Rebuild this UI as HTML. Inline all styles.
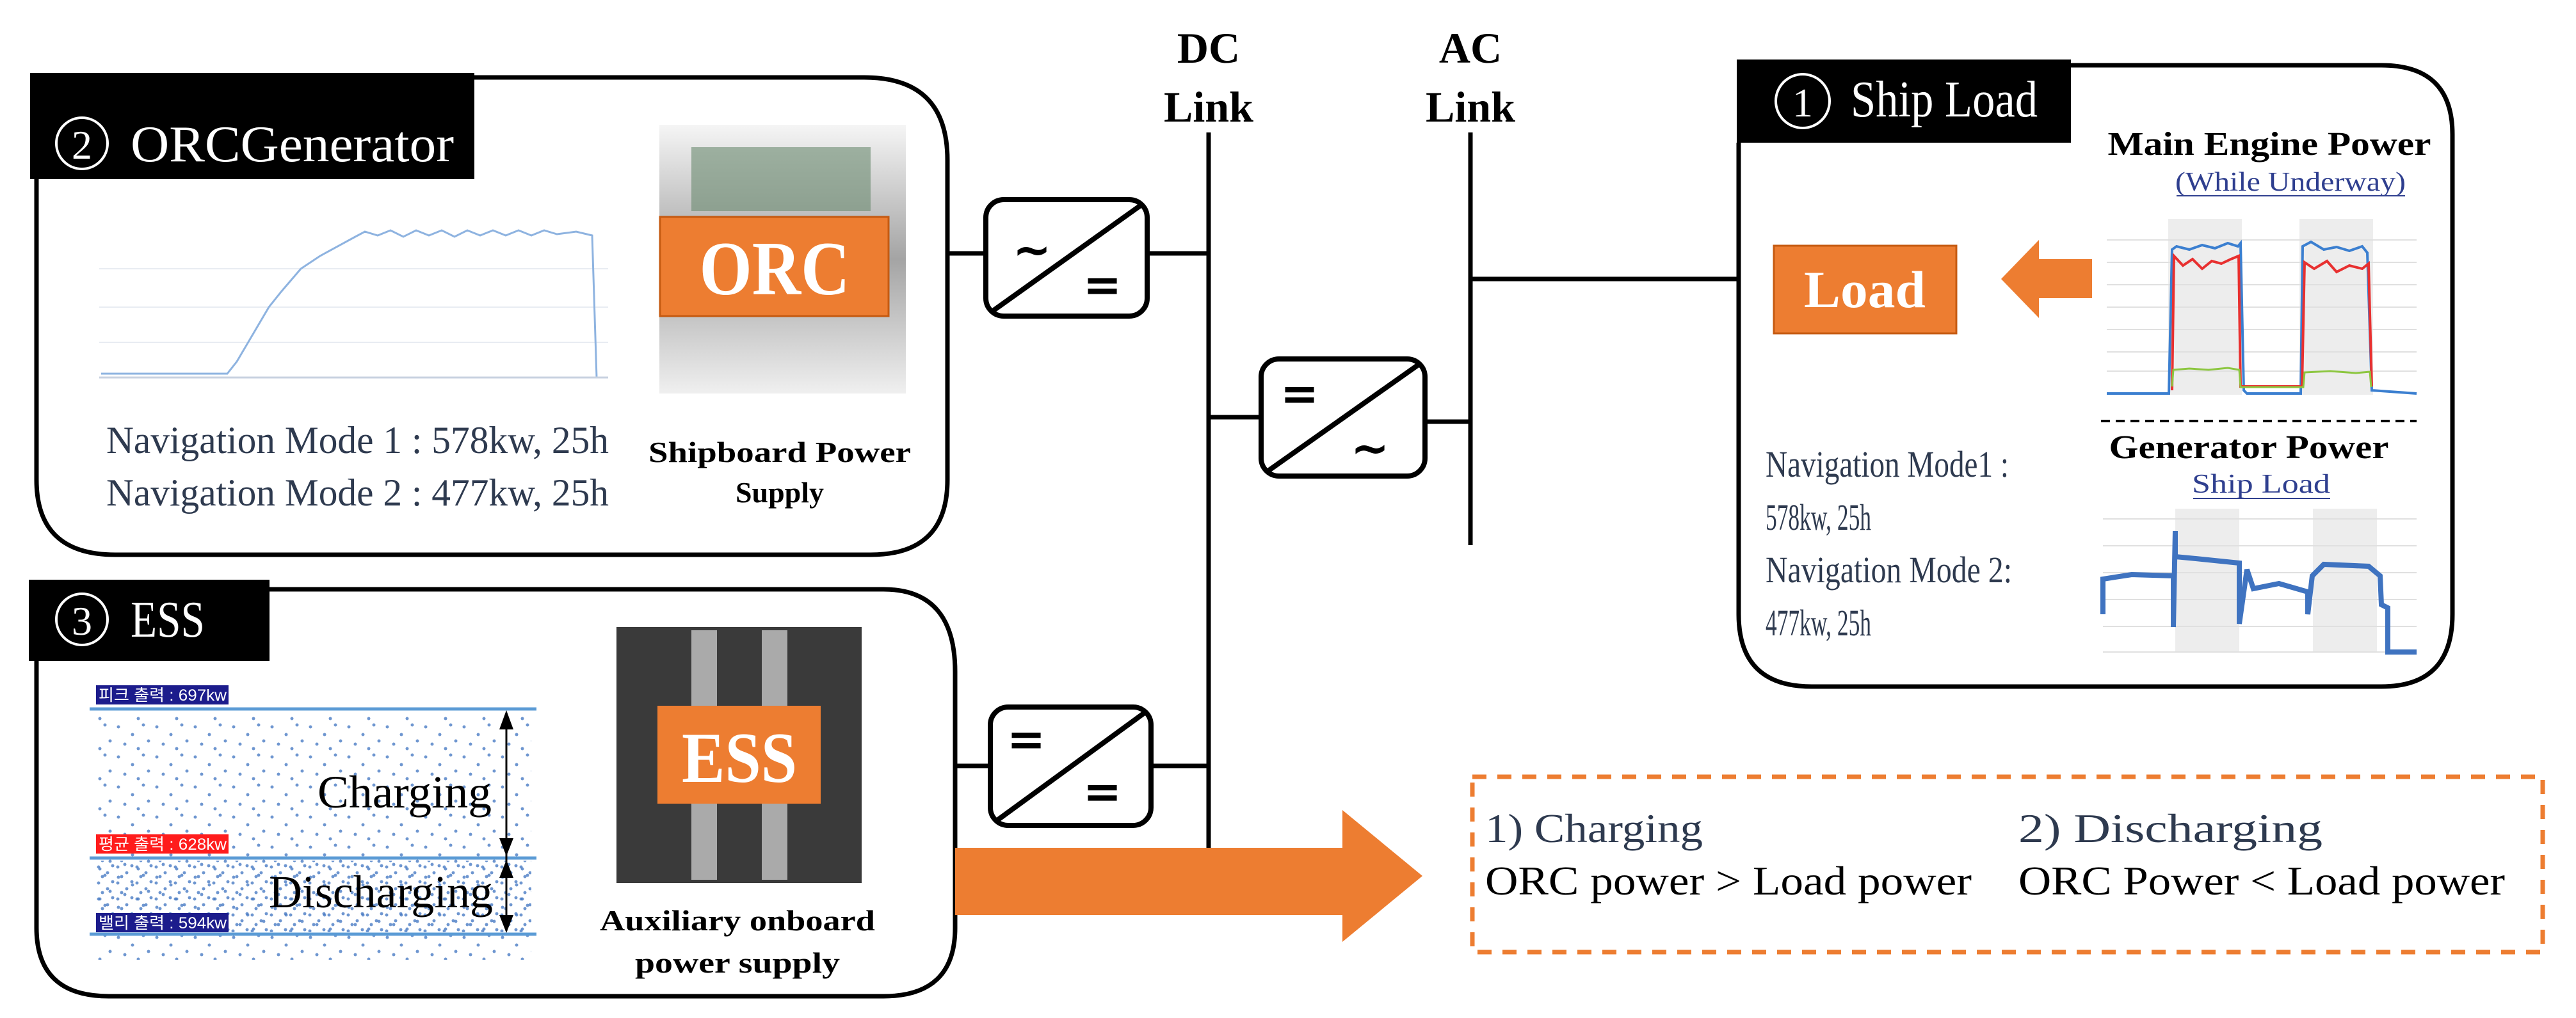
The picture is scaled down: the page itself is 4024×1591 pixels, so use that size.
<!DOCTYPE html>
<html><head><meta charset="utf-8"><style>html,body{margin:0;padding:0;background:#fff}svg{display:block}</style></head><body>
<svg width="4024" height="1591" viewBox="0 0 4024 1591" xmlns="http://www.w3.org/2000/svg" font-family="'Liberation Serif', serif">
<defs>
<pattern id="dots" width="60" height="47" patternUnits="userSpaceOnUse">
<circle cx="5" cy="8" r="2.5" fill="#4a7cc4"/><circle cx="27" cy="20" r="2.5" fill="#4a7cc4"/><circle cx="44" cy="5" r="2.5" fill="#4a7cc4"/><circle cx="15" cy="35" r="2.5" fill="#4a7cc4"/><circle cx="52" cy="30" r="2.5" fill="#4a7cc4"/><circle cx="36" cy="42" r="2.5" fill="#4a7cc4"/>
</pattern>
<pattern id="dots2" width="30" height="25" patternUnits="userSpaceOnUse">
<circle cx="4" cy="5" r="2.5" fill="#4a7cc4"/><circle cx="18" cy="14" r="2.5" fill="#4a7cc4"/><circle cx="26" cy="3" r="2.5" fill="#4a7cc4"/><circle cx="10" cy="20" r="2.5" fill="#4a7cc4"/>
</pattern>
<linearGradient id="ph" x1="0" y1="0" x2="0" y2="1"><stop offset="0" stop-color="#f4f4f4"/><stop offset="0.5" stop-color="#9a9a9a"/><stop offset="1" stop-color="#eeeeee"/></linearGradient>
</defs>

<!-- Bus lines -->
<g stroke="#000" stroke-width="7" fill="none">
<line x1="1888" y1="207" x2="1888" y2="1330"/>
<line x1="2297" y1="207" x2="2297" y2="852"/>
<line x1="1480" y1="396" x2="1540" y2="396"/><line x1="1792" y1="396" x2="1888" y2="396"/>
<line x1="1888" y1="652" x2="1970" y2="652"/><line x1="2226" y1="659" x2="2297" y2="659"/>
<line x1="2297" y1="436" x2="2716" y2="436"/>
<line x1="1492" y1="1197" x2="1547" y2="1197"/><line x1="1798" y1="1197" x2="1888" y2="1197"/>
</g>
<g font-weight="bold" font-size="68" text-anchor="middle" fill="#000">
<text x="1888" y="98">DC</text><text x="1888" y="190">Link</text>
<text x="2297" y="98">AC</text><text x="2297" y="190">Link</text>
</g>

<!-- Converters -->
<g stroke="#000" stroke-width="8" fill="#fff">
<rect x="1540" y="312" width="252" height="182" rx="28"/>
<line x1="1548" y1="488" x2="1786" y2="318"/>
<rect x="1970" y="561" width="256" height="183" rx="28"/>
<line x1="1978" y1="738" x2="2220" y2="567"/>
<rect x="1547" y="1105" width="251" height="185" rx="28"/>
<line x1="1555" y1="1284" x2="1792" y2="1111"/>
</g>
<g font-family="'DejaVu Sans',sans-serif" font-weight="bold" font-size="72" text-anchor="middle" fill="#000">
<text x="1612" y="415">~</text><text x="1722" y="470">=</text>
<text x="2030" y="640">=</text><text x="2140" y="725">~</text>
<text x="1603" y="1180">=</text><text x="1722" y="1262">=</text>
</g>

<!-- ORC box -->
<path d="M57 280 V750 Q57 867 180 867 H1360 Q1480 867 1480 750 V250 Q1480 121 1350 121 H741" fill="none" stroke="#000" stroke-width="7"/>
<rect x="47" y="114" width="694" height="166" fill="#000"/>
<circle cx="128" cy="224" r="40" fill="none" stroke="#fff" stroke-width="4"/>
<text x="128" y="248" fill="#fff" font-size="64" text-anchor="middle">2</text>
<text x="204" y="252" fill="#fff" font-size="80" textLength="505" lengthAdjust="spacingAndGlyphs">ORCGenerator</text>
<g stroke="#e8ecf2" stroke-width="2"><line x1="155" y1="420" x2="950" y2="420"/><line x1="155" y1="480" x2="950" y2="480"/><line x1="155" y1="535" x2="950" y2="535"/></g>
<polyline points="158,584 355,584 370,565 420,480 440,455 470,420 500,400 555,370 570,362 590,368 610,360 630,370 650,360 670,368 690,360 710,370 730,360 750,368 770,360 790,368 810,360 830,368 850,360 870,366 900,362 925,368 932,590 950,590" fill="none" stroke="#8eb3e0" stroke-width="3"/>
<line x1="155" y1="590" x2="950" y2="590" stroke="#c8d2e0" stroke-width="3"/>
<rect x="1030" y="195" width="385" height="420" fill="url(#ph)" opacity="0.9"/>
<rect x="1080" y="230" width="280" height="100" fill="#6a8a70" opacity="0.6"/>
<rect x="1031" y="339" width="357" height="155" fill="#ed7d31" stroke="#c55a11" stroke-width="3"/>
<text x="1210" y="460" fill="#fff" font-size="120" font-weight="bold" text-anchor="middle" textLength="235" lengthAdjust="spacingAndGlyphs">ORC</text>
<g fill="#2e3a4f" font-size="60">
<text x="166" y="708" textLength="785" lengthAdjust="spacingAndGlyphs">Navigation Mode 1 : 578kw, 25h</text>
<text x="166" y="790" textLength="785" lengthAdjust="spacingAndGlyphs">Navigation Mode 2 : 477kw, 25h</text>
</g>
<g font-weight="bold" font-size="46" text-anchor="middle">
<text x="1218" y="722" textLength="410" lengthAdjust="spacingAndGlyphs">Shipboard Power</text>
<text x="1218" y="785">Supply</text>
</g>

<!-- ESS box -->
<path d="M57 1033 V1450 Q57 1557 170 1557 H1380 Q1492 1557 1492 1450 V1050 Q1492 921 1380 921 H421" fill="none" stroke="#000" stroke-width="7"/>
<rect x="45" y="906" width="376" height="127" fill="#000"/>
<circle cx="128" cy="968" r="40" fill="none" stroke="#fff" stroke-width="4"/>
<text x="128" y="992" fill="#fff" font-size="64" text-anchor="middle">3</text>
<text x="204" y="995" fill="#fff" font-size="80" textLength="116" lengthAdjust="spacingAndGlyphs">ESS</text>
<rect x="150" y="1120" width="680" height="380" fill="url(#dots)" opacity="0.8"/>
<rect x="150" y="1345" width="680" height="112" fill="url(#dots2)" opacity="0.8"/>
<g stroke="#5b9bd5" stroke-width="5"><line x1="140" y1="1108" x2="838" y2="1108"/><line x1="140" y1="1341" x2="838" y2="1341"/><line x1="140" y1="1460" x2="838" y2="1460"/></g>
<rect x="150" y="1071" width="207" height="30" fill="#1c1c8c"/><rect x="150" y="1304" width="207" height="30" fill="#ff1c1c"/><rect x="150" y="1427" width="207" height="30" fill="#1c1c8c"/>
<g fill="#fff" font-family="'Liberation Sans','Noto Sans CJK KR',sans-serif" font-size="25">
<text x="154" y="1095" textLength="200" lengthAdjust="spacingAndGlyphs">피크 출력 : 697kw</text>
<text x="154" y="1328" textLength="200" lengthAdjust="spacingAndGlyphs">평균 출력 : 628kw</text>
<text x="154" y="1451" textLength="200" lengthAdjust="spacingAndGlyphs">밸리 출력 : 594kw</text>
</g>
<g stroke="#000" stroke-width="3"><line x1="791" y1="1115" x2="791" y2="1455"/></g>
<g fill="#000"><polygon points="791,1110 780,1140 802,1140"/><polygon points="791,1338 780,1310 802,1310"/><polygon points="791,1344 780,1372 802,1372"/><polygon points="791,1458 780,1430 802,1430"/></g>
<g font-size="72" fill="#000"><text x="496" y="1262" textLength="272" lengthAdjust="spacingAndGlyphs">Charging</text><text x="420" y="1418" textLength="350" lengthAdjust="spacingAndGlyphs">Discharging</text></g>
<rect x="963" y="980" width="383" height="400" fill="#3a3a3a"/>
<rect x="1080" y="985" width="40" height="390" fill="#aaa"/><rect x="1190" y="985" width="40" height="390" fill="#aaa"/>
<rect x="1027" y="1103" width="255" height="153" fill="#ed7d31"/>
<text x="1155" y="1222" fill="#fff" font-size="112" font-weight="bold" text-anchor="middle" textLength="180" lengthAdjust="spacingAndGlyphs">ESS</text>
<g font-weight="bold" font-size="46" text-anchor="middle">
<text x="1152" y="1454" textLength="430" lengthAdjust="spacingAndGlyphs">Auxiliary onboard</text>
<text x="1152" y="1520" textLength="320" lengthAdjust="spacingAndGlyphs">power supply</text>
</g>

<!-- Orange arrow -->
<polygon points="1492,1325 2097,1325 2097,1266 2222,1369 2097,1472 2097,1430 1492,1430" fill="#ed7d31"/>

<!-- Dashed box -->
<rect x="2300" y="1214" width="1672" height="274" fill="none" stroke="#ed7d31" stroke-width="7" stroke-dasharray="22 17"/>
<g font-size="64" fill="#2e3a4f">
<text x="2320" y="1316" textLength="340" lengthAdjust="spacingAndGlyphs">1) Charging</text>
<text x="3153" y="1316" textLength="475" lengthAdjust="spacingAndGlyphs">2) Discharging</text>
</g>
<g font-size="64" fill="#000">
<text x="2320" y="1398" textLength="760" lengthAdjust="spacingAndGlyphs">ORC power &gt; Load power</text>
<text x="3153" y="1398" textLength="760" lengthAdjust="spacingAndGlyphs">ORC Power &lt; Load power</text>
</g>

<!-- Ship Load box -->
<path d="M2716 223 V960 Q2716 1073 2830 1073 H3720 Q3831 1073 3831 960 V210 Q3831 102 3720 102 H3235" fill="none" stroke="#000" stroke-width="7"/>
<rect x="2713" y="93" width="522" height="130" fill="#000"/>
<circle cx="2816" cy="158" r="42" fill="none" stroke="#fff" stroke-width="4"/>
<text x="2816" y="182" fill="#fff" font-size="64" text-anchor="middle">1</text>
<text x="2891" y="182" fill="#fff" font-size="80" textLength="292" lengthAdjust="spacingAndGlyphs">Ship Load</text>
<rect x="2771" y="384" width="285" height="137" fill="#ed7d31" stroke="#c55a11" stroke-width="3"/>
<text x="2913" y="480" fill="#fff" font-size="82" font-weight="bold" text-anchor="middle" textLength="190" lengthAdjust="spacingAndGlyphs">Load</text>
<polygon points="3126,436 3185,375 3185,405 3268,405 3268,466 3185,466 3185,497" fill="#ed7d31"/>
<text x="3545" y="242" font-weight="bold" font-size="52" text-anchor="middle" textLength="505" lengthAdjust="spacingAndGlyphs">Main Engine Power</text>
<text x="3578" y="298" font-size="42" fill="#2f3f8f" text-anchor="middle" textLength="360" lengthAdjust="spacingAndGlyphs">(While Underway)</text>
<line x1="3400" y1="306" x2="3757" y2="306" stroke="#2f3f8f" stroke-width="2"/>
<!-- chart 1 -->
<rect x="3387" y="342" width="115" height="275" fill="#ededed"/><rect x="3592" y="342" width="115" height="275" fill="#ededed"/>
<g stroke="#e0e0e0" stroke-width="2"><line x1="3291" y1="375" x2="3775" y2="375"/><line x1="3291" y1="410" x2="3775" y2="410"/><line x1="3291" y1="445" x2="3775" y2="445"/><line x1="3291" y1="480" x2="3775" y2="480"/><line x1="3291" y1="515" x2="3775" y2="515"/><line x1="3291" y1="550" x2="3775" y2="550"/><line x1="3291" y1="580" x2="3775" y2="580"/></g>
<polyline points="3291,615 3388,615 3393,390 3400,385 3420,390 3440,383 3460,388 3480,380 3496,385 3500,380 3505,610 3510,615 3594,615 3597,385 3610,378 3630,390 3650,386 3670,392 3690,385 3698,395 3705,610 3775,615" fill="none" stroke="#3b7fd0" stroke-width="4"/>
<polyline points="3393,610 3396,400 3410,415 3425,405 3440,420 3455,408 3470,412 3485,405 3497,400 3500,604 3596,604 3600,410 3615,420 3635,408 3650,425 3670,415 3690,420 3700,412 3705,604" fill="none" stroke="#e83030" stroke-width="4"/>
<polyline points="3393,604 3395,578 3420,576 3450,578 3480,575 3498,578 3500,605 3598,605 3600,582 3640,580 3680,583 3702,581 3704,605" fill="none" stroke="#8cc63f" stroke-width="3"/>
<line x1="3282" y1="658" x2="3775" y2="658" stroke="#000" stroke-width="4" stroke-dasharray="14 9"/>
<text x="3513" y="716" font-weight="bold" font-size="52" text-anchor="middle" textLength="437" lengthAdjust="spacingAndGlyphs">Generator Power</text>
<text x="3532" y="770" font-size="42" fill="#2f3f8f" text-anchor="middle" textLength="216" lengthAdjust="spacingAndGlyphs">Ship Load</text>
<line x1="3426" y1="779" x2="3640" y2="779" stroke="#2f3f8f" stroke-width="2"/>
<!-- chart 2 -->
<rect x="3398" y="795" width="100" height="225" fill="#ededed"/><rect x="3613" y="795" width="100" height="225" fill="#ededed"/>
<g stroke="#e0e0e0" stroke-width="2"><line x1="3285" y1="811" x2="3775" y2="811"/><line x1="3285" y1="853" x2="3775" y2="853"/><line x1="3285" y1="895" x2="3775" y2="895"/><line x1="3285" y1="937" x2="3775" y2="937"/><line x1="3285" y1="979" x2="3775" y2="979"/><line x1="3285" y1="1019" x2="3775" y2="1019"/></g>
<path d="M3285 960 V905 L3330 898 L3395 900 V980 L3398 830 V870 L3430 873 L3498 880 V975 L3510 890 L3520 920 L3560 912 L3605 925 V960 L3612 900 L3630 882 L3700 885 L3718 900 L3720 945 L3730 950 V1019 L3775 1019" fill="none" stroke="#3f73c0" stroke-width="8"/>
<g fill="#2e3a4f" font-size="58">
<text x="2758" y="745" textLength="380" lengthAdjust="spacingAndGlyphs">Navigation Mode1 :</text>
<text x="2758" y="828" textLength="165" lengthAdjust="spacingAndGlyphs">578kw, 25h</text>
<text x="2758" y="910" textLength="385" lengthAdjust="spacingAndGlyphs">Navigation Mode 2:</text>
<text x="2758" y="993" textLength="165" lengthAdjust="spacingAndGlyphs">477kw, 25h</text>
</g>
</svg>
</body></html>
